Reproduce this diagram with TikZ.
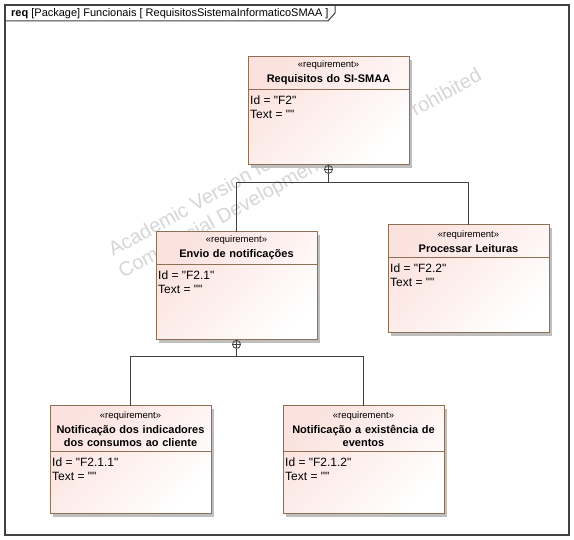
\documentclass[tikz,border=0pt]{standalone}
\usepackage{fontspec}
\setmainfont{Liberation Sans}[Ligatures=TeXOff]
\usetikzlibrary{calc,positioning,shadows}

\definecolor{reqPink}{RGB}{251,226,222}
\definecolor{reqEdge}{RGB}{143,112,84}
\definecolor{frameGray}{RGB}{64,64,64}

\begin{document}
\begin{tikzpicture}[x=1pt,y=-1pt]
  % requires: \usetikzlibrary{calc,positioning,shadows}
  \tikzset{
    reqBox/.style={draw=reqEdge, line width=1pt, top color=reqPink, bottom color=white, shading angle=45, general shadow={fill=black!25, shadow xshift=3pt, shadow yshift=-3pt}, minimum width=161pt, minimum height=108pt, inner sep=0pt, outer sep=0pt, anchor=north west},
    reqHead/.style={anchor=north, inner sep=0pt, text width=159pt, align=center, minimum height=32pt, font=\fontsize{11}{13}\selectfont\bfseries},
    reqAttr/.style={anchor=north west, inner xsep=2pt, inner ysep=6.5pt, align=left, font=\fontsize{12}{14}\selectfont},
    reqRule/.style={draw=reqEdge, line width=0.8pt},
    reqLink/.style={draw=frameGray, line width=0.9pt},
    markBox/.style={text=black!16, font=\fontsize{20}{24}\selectfont, rotate=29, anchor=base west, inner sep=0pt},
    containMark/.style={circle, draw=frameGray, line width=0.8pt, minimum size=8pt, inner sep=0pt, anchor=north, path picture={\draw[frameGray, line width=0.8pt] (path picture bounding box.north) -- (path picture bounding box.south) (path picture bounding box.west) -- (path picture bounding box.east);}}
  }
  \newcommand{\stereoLine}{{\fontsize{9.5}{11}\selectfont\mdseries «requirement»}}

  \fill[white] (0,0) rectangle (574,540);
  \useasboundingbox (0,0) rectangle (574,540);

% --- Watermark ---
  \node[markBox] (markTop) at (113,257) {Academic Version for Teaching Only};
  \node[markBox] (markBottom) at (123,279) {Commercial Development is Strictly Prohibited};

% --- Frame ---
  \draw[frameGray, line width=1.2pt] (5,5) rectangle (569,535);
  \draw[frameGray, line width=1pt] (5,21) -- (328,21) -- (335,13) -- (335,5);
  \node[anchor=base west, inner sep=0pt, font=\fontsize{11}{13}\selectfont] (frameTitle) at (11,17) {\textbf{req} [Package] Funcionais [ RequisitosSistemaInformaticoSMAA ]};

% --- Requirements ---
  \node[reqBox] (topReq) at (248,57) {};
  \node[reqHead] (topHead) at (topReq.north) {\stereoLine\\[2pt] Requisitos do SI-SMAA};
  \draw[reqRule] (topReq.west |- topHead.south) -- (topReq.east |- topHead.south);
  \node[reqAttr] (topAttr) at (topReq.west |- topHead.south) {Id = "F2"\\Text = ""};

  \node[reqBox] (envioReq) at (156,232) {};
  \node[reqHead] (envioHead) at (envioReq.north) {\stereoLine\\[2pt] Envio de notificações};
  \draw[reqRule] (envioReq.west |- envioHead.south) -- (envioReq.east |- envioHead.south);
  \node[reqAttr] (envioAttr) at (envioReq.west |- envioHead.south) {Id = "F2.1"\\Text = ""};

  \node[reqBox] (procReq) at (388,225) {};
  \node[reqHead] (procHead) at (procReq.north) {\stereoLine\\[2pt] Processar Leituras};
  \draw[reqRule] (procReq.west |- procHead.south) -- (procReq.east |- procHead.south);
  \node[reqAttr] (procAttr) at (procReq.west |- procHead.south) {Id = "F2.2"\\Text = ""};

  \node[reqBox] (notifCliReq) at (50,406) {};
  \node[reqHead, minimum height=45pt] (notifCliHead) at (notifCliReq.north) {\stereoLine\\[2pt] Notificação dos indicadores\\ dos consumos ao cliente};
  \draw[reqRule] (notifCliReq.west |- notifCliHead.south) -- (notifCliReq.east |- notifCliHead.south);
  \node[reqAttr] (notifCliAttr) at (notifCliReq.west |- notifCliHead.south) {Id = "F2.1.1"\\Text = ""};

  \node[reqBox] (notifEvtReq) at (283,406) {};
  \node[reqHead, minimum height=45pt] (notifEvtHead) at (notifEvtReq.north) {\stereoLine\\[2pt] Notificação a existência de\\ eventos};
  \draw[reqRule] (notifEvtReq.west |- notifEvtHead.south) -- (notifEvtReq.east |- notifEvtHead.south);
  \node[reqAttr] (notifEvtAttr) at (notifEvtReq.west |- notifEvtHead.south) {Id = "F2.1.2"\\Text = ""};

% --- Containment links ---
  \node[containMark] (topMark) at (topReq.south) {};
  \coordinate (topJoin) at ($(topMark.south)+(0,9)$);
  \draw[reqLink] (topMark.south) -- (topJoin);
  \draw[reqLink] (topJoin) -| (envioReq.north);
  \draw[reqLink] (topJoin) -| (procReq.north);

  \node[containMark] (envioMark) at (envioReq.south) {};
  \coordinate (envioJoin) at ($(envioMark.south)+(0,8)$);
  \draw[reqLink] (envioMark.south) -- (envioJoin);
  \draw[reqLink] (envioJoin) -| (notifCliReq.north);
  \draw[reqLink] (envioJoin) -| (notifEvtReq.north);

\end{tikzpicture}
\end{document}
